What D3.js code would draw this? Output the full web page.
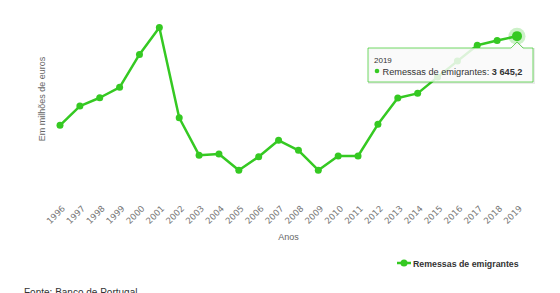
<!DOCTYPE html>
<html>
<head>
<meta charset="utf-8">
<script src="https://cdn.jsdelivr.net/npm/d3@7"></script>
<style>
  body { margin: 0; background: #fff; }
  text { font-family: "Liberation Sans", Arial, sans-serif; }
</style>
</head>
<body>
<div id="chart"></div>
<script>
// Remessas de emigrantes, em milhoes de euros
var years = ["1996","1997","1998","1999","2000","2001","2002","2003","2004","2005","2006","2007",
             "2008","2009","2010","2011","2012","2013","2014","2015","2016","2017","2018","2019"];
var remessas = [2816, 2995, 3072, 3169, 3475, 3726, 2886, 2538, 2549, 2398, 2524, 2676,
                2583, 2398, 2530, 2530, 2825, 3069, 3113, 3264, 3413, 3561, 3605, 3645.2];
var seriesName = "Remessas de emigrantes";
var yTitle = "Em milhões de euros";
var xTitle = "Anos";
var source = "Fonte: Banco de Portugal";

var width = 560, height = 293;
var green = "#35c922";

var data = years.map(function (y, i) { return {key: y, value: remessas[i]}; });

var svg = d3.select("#chart").append("svg")
  .attr("width", width)
  .attr("height", height);

var x = d3.scalePoint()
  .domain(years)
  .range([60, 517]);

var y = d3.scaleLinear()
  .domain([2000, 4000])
  .range([213, -2]);

// eixo x: so as legendas, rodadas
var xAxis = svg.append("g")
  .attr("transform", "translate(0,202)")
  .call(d3.axisBottom(x).tickSize(0).tickPadding(0));
xAxis.select(".domain").remove();
xAxis.selectAll("text")
  .attr("fill", "#777")
  .style("font-family", "'DejaVu Sans', sans-serif")
  .style("font-size", "8.6px")
  .attr("dy", "0.35em")
  .attr("transform", "translate(3,5) rotate(-45)")
  .style("text-anchor", "end");

svg.append("text")
  .attr("x", (x(years[0]) + x(years[years.length - 1])) / 2)
  .attr("y", 240)
  .attr("text-anchor", "middle")
  .attr("fill", "#666")
  .style("font-size", "9px")
  .text(xTitle);

svg.append("text")
  .attr("transform", "translate(45,99) rotate(-90)")
  .attr("text-anchor", "middle")
  .attr("fill", "#666")
  .style("font-size", "9px")
  .text(yTitle);

// linha
var line = d3.line()
  .x(function (d) { return x(d.key); })
  .y(function (d) { return y(d.value); });

svg.append("path")
  .datum(data)
  .attr("fill", "none")
  .attr("stroke", green)
  .attr("stroke-width", 2.5)
  .attr("stroke-linejoin", "round")
  .attr("d", line);

svg.append("g")
  .attr("fill", green)
  .selectAll("circle")
  .data(data)
  .join("circle")
  .attr("cx", function (d) { return x(d.key); })
  .attr("cy", function (d) { return y(d.value); })
  .attr("r", 3.5);

// ponto realcado (hover)
var last = data[data.length - 1];
svg.append("circle")
  .attr("cx", x(last.key))
  .attr("cy", y(last.value))
  .attr("r", 8.5)
  .attr("fill", green)
  .attr("opacity", 0.25);
svg.append("circle")
  .attr("cx", x(last.key))
  .attr("cy", y(last.value))
  .attr("r", 5)
  .attr("fill", green);

// tooltip
var tx = x(last.key), ty = y(last.value);
var bx0 = 368, bx1 = 533, by0 = 48, by1 = 82;
var tipPath = "M" + bx0 + "," + by0 +
  " L" + (tx - 6) + "," + by0 +
  " L" + tx + "," + (by0 - 6) +
  " L" + (tx + 6) + "," + by0 +
  " L" + bx1 + "," + by0 +
  " L" + bx1 + "," + by1 +
  " L" + bx0 + "," + by1 + " Z";
svg.append("path")
  .attr("d", tipPath)
  .attr("transform", "translate(1,1)")
  .attr("fill", "none")
  .attr("stroke", "#000")
  .attr("stroke-opacity", 0.08)
  .attr("stroke-width", 2);
svg.append("path")
  .attr("d", tipPath)
  .attr("fill", "#f9f9f9")
  .attr("fill-opacity", 0.85)
  .attr("stroke", green)
  .attr("stroke-opacity", 0.7)
  .attr("stroke-width", 1);

svg.append("text")
  .attr("x", 374)
  .attr("y", 63)
  .attr("fill", "#333")
  .style("font-size", "8px")
  .text(last.key);
svg.append("circle")
  .attr("cx", 377)
  .attr("cy", 71)
  .attr("r", 2.3)
  .attr("fill", green);
var tipText = svg.append("text")
  .attr("x", 382.5)
  .attr("y", 74.5)
  .attr("fill", "#333")
  .style("font-size", "9.2px");
tipText.append("tspan").text(seriesName + ": ");
tipText.append("tspan")
  .attr("font-weight", "bold")
  .text(d3.format(",.1f")(last.value).replace(",", " ").replace(".", ","));

// legenda
svg.append("line")
  .attr("x1", 397).attr("x2", 411)
  .attr("y1", 263).attr("y2", 263)
  .attr("stroke", green)
  .attr("stroke-width", 2.5);
svg.append("circle")
  .attr("cx", 404).attr("cy", 263).attr("r", 3.5)
  .attr("fill", green);
svg.append("text")
  .attr("x", 413)
  .attr("y", 266.5)
  .attr("fill", "#333")
  .attr("font-weight", "bold")
  .style("font-size", "8.8px")
  .text(seriesName);

// fonte
svg.append("text")
  .attr("x", 24)
  .attr("y", 296)
  .attr("fill", "#333")
  .style("font-size", "10px")
  .text(source);
</script>
</body>
</html>
